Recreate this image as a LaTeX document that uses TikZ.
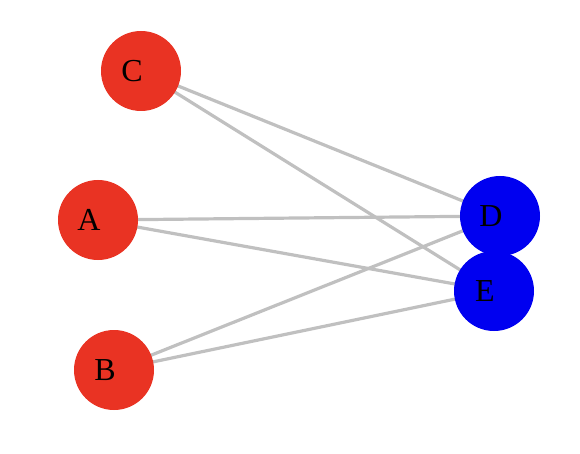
\documentclass[tikz,border=0pt]{standalone}
\usepackage{tikz}
\usepackage{xcolor}
\usepackage{fontspec}
\setmainfont{Liberation Serif}
\usetikzlibrary{backgrounds}
\definecolor{nodered}{RGB}{233,51,35}
\definecolor{nodeblue}{RGB}{0,0,240}
\definecolor{edgegray}{RGB}{192,192,192}

\tikzset{
    rednode/.style={circle, fill=nodered, minimum size=80pt, inner sep=0pt},
    bluenode/.style={circle, fill=nodeblue, minimum size=80pt, inner sep=0pt},
    nodelabel/.style={label={[xshift=-9pt, font=\fontsize{32}{32}\selectfont]center:#1}},
    link/.style={draw=edgegray, line width=3.2pt}
}

\begin{document}
\begin{tikzpicture}[x=1pt, y=-1pt]
            \useasboundingbox (0,0) rectangle (580,454);
            \node[rednode, nodelabel=C] (c) at (141,71) {};
            \node[rednode, nodelabel=A] (a) at (98,220) {};
            \node[rednode, nodelabel=B] (b) at (114,370) {};
            \node[bluenode, nodelabel=D] (d) at (500,216) {};
            \node[bluenode, nodelabel=E] (e) at (494,291) {};

            \begin{scope}[on background layer]
            \draw[link] (c.center) -- (d.center);
            \draw[link] (c.center) -- (e.center);
            \draw[link] (a.center) -- (d.center);
            \draw[link] (a.center) -- (e.center);
            \draw[link] (b.center) -- (d.center);
            \draw[link] (b.center) -- (e.center);
            \end{scope}
        \end{tikzpicture}
\end{document}
